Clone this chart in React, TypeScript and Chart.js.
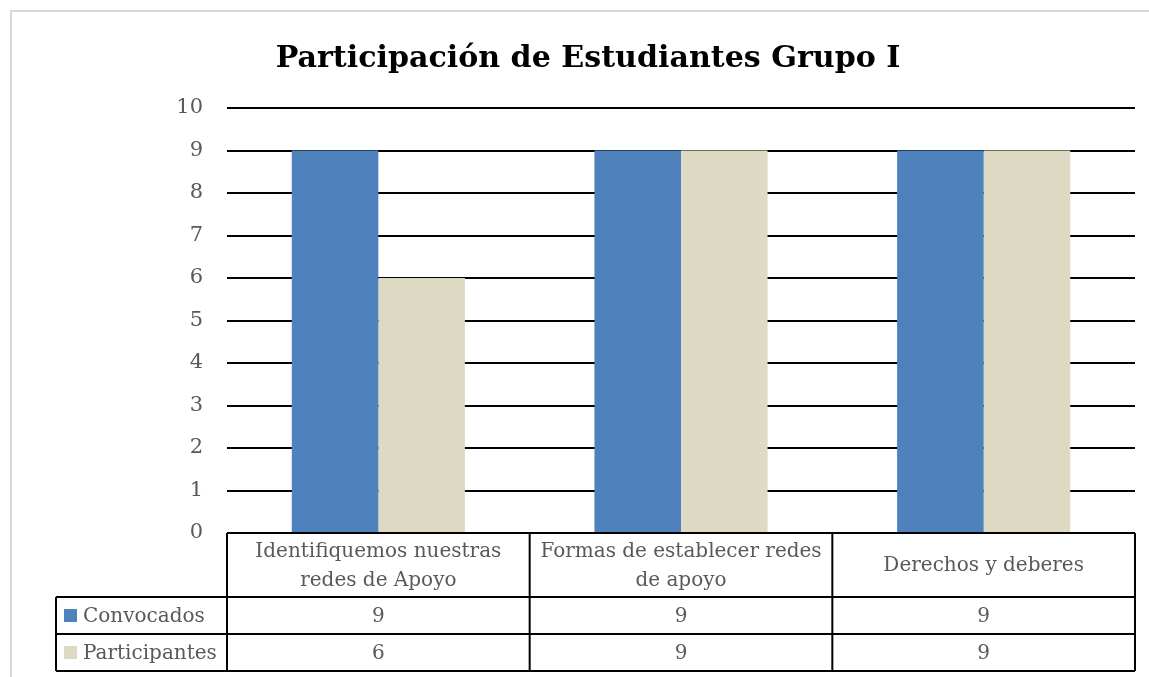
import React, { useEffect, useRef } from "react";
import { Chart, registerables } from "chart.js";

Chart.register(...registerables);

const titleText = "Participación de Estudiantes Grupo I";
const categories: string[][] = [
  ["Identifiquemos nuestras", "redes de Apoyo"],
  ["Formas de establecer redes", "de apoyo"],
  ["Derechos y deberes"],
];
const seriesNames = ["Convocados", "Participantes"];
const convocados = [9, 9, 9];
const participantes = [6, 9, 9];
const seriesColors = ["#4F81BD", "#DDD9C3"];
const yMin = 0;
const yMax = 10;
const yStep = 1;

const FONT = "'DejaVu Serif', 'Liberation Serif', serif";
const TEXT_COLOR = "#595959";

const tablePlugin = {
  id: "tablePlugin",
  beforeDraw(chart: any) {
    const ctx = chart.ctx;
    ctx.save();
    ctx.fillStyle = "#ffffff";
    ctx.fillRect(0, 0, chart.width, chart.height);
    // outer frame
    ctx.strokeStyle = "#d9d9d9";
    ctx.lineWidth = 2;
    ctx.beginPath();
    ctx.moveTo(11, chart.height);
    ctx.lineTo(11, 11);
    ctx.lineTo(chart.width, 11);
    ctx.stroke();
    // title
    let size = 37;
    ctx.font = `bold ${size}px ${FONT}`;
    const w = ctx.measureText(titleText).width;
    size = size * (625 / w);
    ctx.font = `bold ${size}px ${FONT}`;
    ctx.fillStyle = "#000000";
    ctx.textAlign = "center";
    ctx.textBaseline = "alphabetic";
    ctx.fillText(titleText, 588, 67);
    ctx.restore();
  },
  afterDraw(chart: any) {
    const ctx = chart.ctx;
    const xs = chart.scales.x;
    const area = chart.chartArea;
    const n = chart.data.labels.length;
    const colW = (area.right - area.left) / n;
    const top = area.bottom;
    const headerBottom = top + 64;
    const row1Bottom = headerBottom + 37;
    const row2Bottom = row1Bottom + 37;
    const legendLeft = 56;
    ctx.save();
    ctx.strokeStyle = "#000000";
    ctx.lineWidth = 2;
    ctx.beginPath();
    ctx.moveTo(area.left, top);
    ctx.lineTo(area.right, top);
    ctx.moveTo(legendLeft, headerBottom);
    ctx.lineTo(area.right, headerBottom);
    ctx.moveTo(legendLeft, row1Bottom);
    ctx.lineTo(area.right, row1Bottom);
    ctx.moveTo(legendLeft, row2Bottom);
    ctx.lineTo(area.right, row2Bottom);
    ctx.moveTo(legendLeft, headerBottom);
    ctx.lineTo(legendLeft, row2Bottom);
    for (let i = 0; i <= n; i++) {
      const x = area.left + i * colW;
      ctx.moveTo(x, top);
      ctx.lineTo(x, row2Bottom);
    }
    ctx.stroke();

    ctx.fillStyle = TEXT_COLOR;
    ctx.font = `20px ${FONT}`;
    ctx.textAlign = "center";
    ctx.textBaseline = "middle";
    for (let i = 0; i < n; i++) {
      const cx = xs.getPixelForValue(i);
      const lines: string[] = chart.data.labels[i];
      const lh = 29;
      const midY = (top + headerBottom) / 2 + 1;
      lines.forEach((ln, j) => {
        const y = midY + (j - (lines.length - 1) / 2) * lh;
        ctx.fillText(ln, cx, y);
      });
      chart.data.datasets.forEach((ds: any, k: number) => {
        const rowTop = k === 0 ? headerBottom : row1Bottom;
        const rowBot = k === 0 ? row1Bottom : row2Bottom;
        ctx.fillText(String(ds.data[i]), cx, (rowTop + rowBot) / 2 + 1);
      });
    }
    chart.data.datasets.forEach((ds: any, k: number) => {
      const rowTop = k === 0 ? headerBottom : row1Bottom;
      const rowBot = k === 0 ? row1Bottom : row2Bottom;
      const cy = (rowTop + rowBot) / 2;
      ctx.fillStyle = ds.backgroundColor;
      ctx.fillRect(64, cy - 6.5, 13, 13);
      ctx.fillStyle = TEXT_COLOR;
      ctx.textAlign = "left";
      ctx.fillText(ds.label, 83, cy + 1);
    });
    ctx.restore();
  },
};

export default function App() {
  const ref = useRef<HTMLCanvasElement | null>(null);
  useEffect(() => {
    document.body.style.margin = "0";
    if (!ref.current) return;
    const chart = new Chart(ref.current, {
      type: "bar",
      data: {
        labels: categories as any,
        datasets: [
          {
            label: seriesNames[0],
            data: convocados,
            backgroundColor: seriesColors[0],
            categoryPercentage: 0.572,
            barPercentage: 1,
          },
          {
            label: seriesNames[1],
            data: participantes,
            backgroundColor: seriesColors[1],
            categoryPercentage: 0.572,
            barPercentage: 1,
          },
        ],
      },
      options: {
        responsive: false,
        animation: false,
        layout: { padding: { left: 42, right: 14, top: 108, bottom: 144 } },
        plugins: {
          legend: { display: false },
          title: { display: false },
          tooltip: { enabled: false },
        },
        scales: {
          x: { display: false },
          y: {
            min: yMin,
            max: yMax,
            ticks: {
              stepSize: yStep,
              padding: 24,
              color: TEXT_COLOR,
              font: { family: FONT, size: 21 },
            },
            grid: { color: "#000000", lineWidth: 2, drawTicks: false },
            border: { display: false },
            afterFit: (s: any) => {
              s.width = 185;
            },
          },
        },
      },
      plugins: [tablePlugin],
    });
    return () => chart.destroy();
  }, []);
  return (
    <div style={{ width: 1149, height: 677 }}>
      <canvas ref={ref} width={1149} height={677} style={{ display: "block" }} />
    </div>
  );
}
